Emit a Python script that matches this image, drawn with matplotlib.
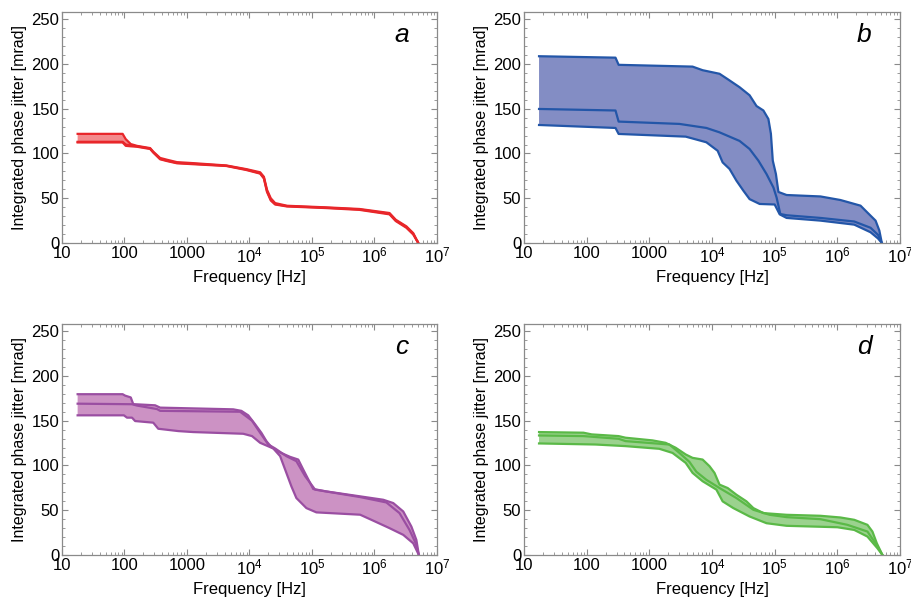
import numpy as np
import matplotlib
matplotlib.use("Agg")
import matplotlib.pyplot as plt
from matplotlib.ticker import FixedLocator, MultipleLocator, LogLocator, NullFormatter

plt.rcParams['font.family'] = ['Liberation Sans', 'DejaVu Sans']
plt.rcParams['mathtext.fontset'] = 'custom'
plt.rcParams['mathtext.rm'] = 'Liberation Sans'
plt.rcParams['mathtext.it'] = 'Liberation Sans:italic'

# ---- data (log10 of frequency in Hz, integrated jitter in mrad) ----
a_up_logf = [1.25, 1.97, 2.02, 2.10, 2.20, 2.41, 2.46, 2.57, 2.68, 2.84, 3.10, 3.63, 3.95, 4.17, 4.23, 4.28, 4.34, 4.41, 4.60, 5.23, 5.76, 6.24, 6.34, 6.51, 6.62, 6.70]
a_up = [121.9, 121.9, 116, 110.5, 108.5, 106, 102, 95, 93, 90.3, 89.2, 86.6, 82.5, 79, 74, 59.5, 50, 44.6, 41.6, 39.8, 38, 33.5, 26, 18.6, 11, 0]
a_mid_logf = a_up_logf
a_mid = [113, 113, 110, 109, 108, 105.5, 101.5, 94, 92, 89.5, 88.5, 86.3, 82, 78, 73, 58, 48.5, 43.5, 41.2, 39.4, 37.5, 32.7, 25.2, 17.8, 10.2, 0]
a_lo_logf = a_up_logf
a_lo = [112.3, 112.3, 108.5, 108, 107.5, 105, 101, 93.5, 91.5, 89, 88, 86, 81.5, 77.5, 72, 57, 47.5, 43, 40.8, 39, 37, 32, 24.5, 17, 9.5, 0]

b_up_logf = [1.24, 2.46, 2.51, 3.69, 3.85, 4.12, 4.25, 4.44, 4.60, 4.71, 4.82, 4.90, 4.94, 4.97, 5.02, 5.06, 5.19, 5.73, 6.05, 6.37, 6.48, 6.61, 6.67, 6.71]
b_up = [208.6, 207, 199, 197, 193, 189, 183, 174, 165, 153, 148, 138.5, 122, 92, 77, 57, 53.6, 52, 48, 41.7, 34, 25, 14, 0]
b_mid_logf = [1.24, 2.46, 2.51, 3.48, 3.91, 4.12, 4.44, 4.60, 4.74, 4.87, 4.98, 5.03, 5.09, 5.19, 5.73, 6.27, 6.53, 6.65, 6.71]
b_mid = [149.7, 148, 135.6, 133, 128.5, 123.6, 114, 105, 92, 77, 62, 51, 32.4, 31, 28, 24, 17, 9, 0]
b_lo_logf = [1.24, 2.46, 2.51, 3.58, 3.91, 4.09, 4.17, 4.28, 4.39, 4.50, 4.60, 4.76, 5.00, 5.08, 5.19, 5.73, 6.27, 6.53, 6.65, 6.71]
b_lo = [131.8, 128.5, 121.8, 118.8, 112.5, 103, 90, 82.7, 69.6, 58.5, 49, 43.6, 43, 32, 28, 25, 20.5, 12, 5, 0]

c_up_logf = [1.25, 1.97, 2.01, 2.10, 2.14, 2.49, 2.57, 3.74, 3.87, 3.98, 4.09, 4.19, 4.27, 4.35, 4.48, 4.65, 4.78, 4.86, 5.02, 5.23, 5.77, 6.14, 6.30, 6.46, 6.59, 6.67, 6.71]
c_up = [179.6, 179.6, 178, 176, 168.5, 167.2, 164.6, 162.7, 161, 156, 146, 136.5, 127.2, 120.5, 114.8, 109.6, 106.6, 95.4, 73.7, 71, 65.5, 61.7, 58, 48.6, 31.8, 16.8, 0]
c_mid_logf = [1.25, 2.12, 2.20, 2.52, 2.57, 3.85, 4.04, 4.17, 4.30, 4.41, 4.59, 4.75, 4.89, 5.05, 5.77, 6.19, 6.40, 6.56, 6.66, 6.71]
c_mid = [169, 168.4, 166.9, 163, 161, 160, 150, 136.5, 123.5, 119, 110.4, 104.8, 88, 73, 64.7, 58.7, 46.8, 28, 13, 0]
c_lo_logf = [1.25, 1.99, 2.04, 2.12, 2.17, 2.46, 2.54, 2.86, 3.10, 3.90, 4.04, 4.17, 4.38, 4.49, 4.59, 4.67, 4.75, 4.91, 5.07, 5.77, 5.95, 6.24, 6.46, 6.62, 6.71]
c_lo = [156, 156, 153.4, 153.4, 149.6, 147.8, 141, 138.4, 137.3, 135.4, 132.8, 125.3, 119, 110.4, 91.7, 76.7, 63.6, 52.4, 47.6, 45, 39.3, 30, 22.5, 13, 0]

d_up_logf = [1.24, 1.95, 2.08, 2.51, 2.62, 3.05, 3.26, 3.42, 3.58, 3.69, 3.85, 3.96, 4.04, 4.12, 4.25, 4.39, 4.55, 4.66, 4.82, 5.19, 5.73, 6.05, 6.27, 6.48, 6.56, 6.63, 6.72]
d_up = [137.3, 136.6, 134.7, 132.8, 131, 128, 125.3, 119.8, 112.3, 108.5, 106.6, 99.2, 91.7, 78.6, 74.8, 67.3, 59.9, 52.4, 46.8, 44.9, 43.8, 41.9, 39.3, 33.7, 26.2, 13.1, 0]
d_mid_logf = [1.24, 1.95, 2.51, 2.62, 3.32, 3.48, 3.64, 3.75, 3.91, 4.12, 4.39, 4.66, 4.92, 5.19, 5.73, 6.16, 6.48, 6.61, 6.72]
d_mid = [133.5, 132.8, 129.8, 127.2, 123.4, 114, 104, 93, 84, 74.8, 63.6, 50.5, 44.9, 42.3, 40, 33.7, 26.2, 13.1, 0]
d_lo_logf = [1.24, 2.14, 2.62, 3.16, 3.37, 3.58, 3.69, 3.85, 4.07, 4.17, 4.34, 4.60, 4.87, 5.19, 6.0, 6.27, 6.48, 6.64, 6.72]
d_lo = [124.6, 123.4, 121.6, 118.6, 114, 102.9, 91.7, 82.4, 73, 59.9, 52.4, 43, 35.5, 32.6, 31, 28, 20.6, 7.5, 0]

panel_letters = ['a', 'b', 'c', 'd']
line_colors = ['#e8262a', '#2356a8', '#9a4ea2', '#5ab947']
fill_colors = ['#f38a8c', '#838dc4', '#cc92c4', '#9bd28e']
xtick_labels = ['10', '100', '1000', r'$\mathregular{10^4}$', r'$\mathregular{10^5}$',
                r'$\mathregular{10^6}$', r'$\mathregular{10^7}$']
ytick_values = [0, 50, 100, 150, 200, 250]

panels = [
    (a_up_logf, a_up, a_mid_logf, a_mid, a_lo_logf, a_lo),
    (b_up_logf, b_up, b_mid_logf, b_mid, b_lo_logf, b_lo),
    (c_up_logf, c_up, c_mid_logf, c_mid, c_lo_logf, c_lo),
    (d_up_logf, d_up, d_mid_logf, d_mid, d_lo_logf, d_lo),
]

fig = plt.figure(figsize=(9.12, 6.0), dpi=100)
W, H = 912.0, 600.0
boxes = [(62, 12, 437, 243), (524, 12, 900, 243), (62, 324, 437, 555), (524, 324, 900, 555)]

frame_col = '#8a8a8a'
for i, (box, data) in enumerate(zip(boxes, panels)):
    x0, y0, x1, y1 = box
    ax = fig.add_axes([x0 / W, 1 - y1 / H, (x1 - x0) / W, (y1 - y0) / H])
    ul, u, ml, m, ll, l = data
    fu = 10 ** np.array(ul)
    fm = 10 ** np.array(ml)
    fl = 10 ** np.array(ll)
    px = np.concatenate([fu, fl[::-1]])
    py = np.concatenate([np.array(u), np.array(l)[::-1]])
    ax.fill(px, py, color=fill_colors[i], lw=0, zorder=1)
    for fx, yy in ((fu, u), (fm, m), (fl, l)):
        ax.plot(fx, yy, color=line_colors[i], lw=1.6, zorder=2, solid_joinstyle='round')
    ax.set_xscale('log')
    ax.set_xlim(10, 1e7)
    ax.set_ylim(0, 258)
    ax.xaxis.set_major_locator(FixedLocator([10 ** k for k in range(1, 8)]))
    ax.set_xticklabels(xtick_labels)
    ax.xaxis.set_minor_locator(LogLocator(base=10, subs=np.arange(2, 10), numticks=20))
    ax.xaxis.set_minor_formatter(NullFormatter())
    ax.yaxis.set_major_locator(FixedLocator(ytick_values))
    ax.yaxis.set_minor_locator(MultipleLocator(10))
    ax.tick_params(which='both', direction='in', top=True, right=True, color=frame_col,
                   labelsize=12, pad=2)
    ax.tick_params(which='major', length=4.5, width=0.8)
    ax.tick_params(which='minor', length=2.2, width=0.6)
    for sp in ax.spines.values():
        sp.set_color(frame_col)
        sp.set_linewidth(0.9)
    ax.set_xlabel('Frequency [Hz]', fontsize=12, labelpad=3)
    ax.set_ylabel('Integrated phase jitter [mrad]', fontsize=11.5, labelpad=3)
    ax.text(0.905, 0.90, panel_letters[i], transform=ax.transAxes, fontsize=19,
            fontstyle='italic', ha='center', va='center')

fig.savefig('out.png', dpi=100)
